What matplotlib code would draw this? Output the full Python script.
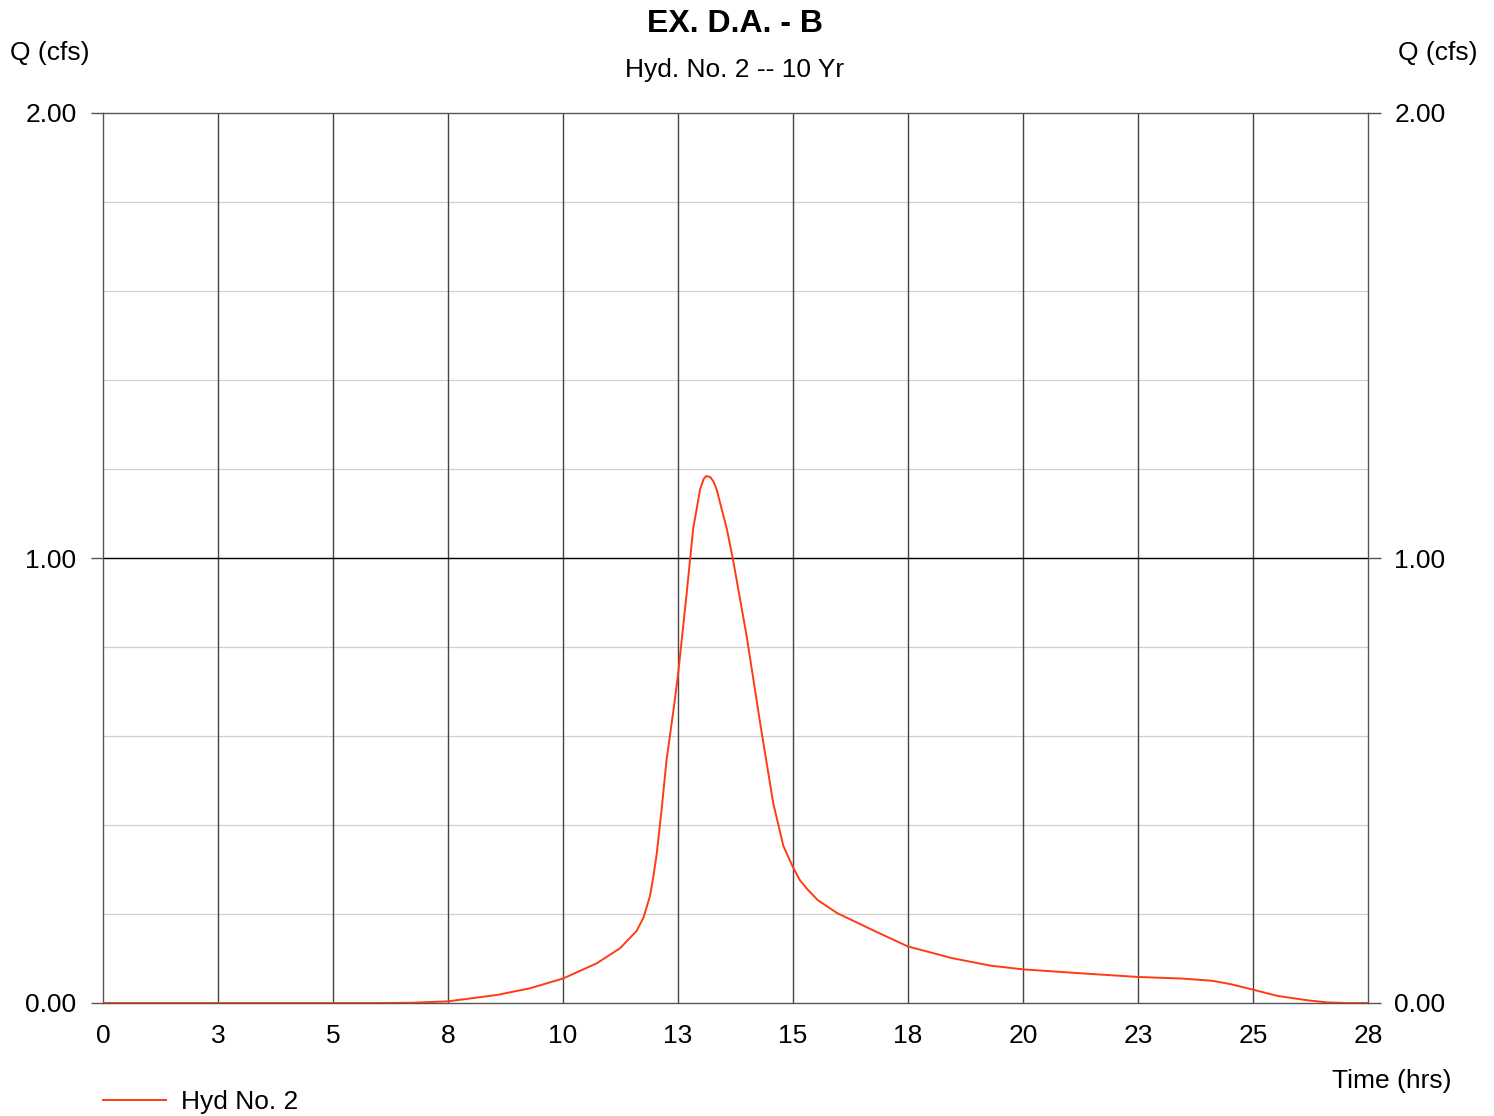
import matplotlib
matplotlib.use("Agg")
import matplotlib.pyplot as plt

plt.rcParams["font.family"] = ["Liberation Sans", "DejaVu Sans"]

# hydrograph (hrs, cfs)
time_hrs = [0.0, 6.0, 6.7, 7.5, 8.56, 9.28, 10.0, 10.73, 11.24, 11.60, 11.75,
            11.89, 11.96, 12.04, 12.15, 12.25, 12.40, 12.5, 12.69, 12.83, 12.98,
            13.06, 13.11, 13.20, 13.27, 13.34, 13.56, 13.70, 13.99, 14.28, 14.57,
            14.79, 15.0, 15.15, 15.30, 15.54, 15.96, 16.79, 17.5, 18.45, 19.29,
            20.0, 21.37, 22.5, 23.45, 24.11, 24.53, 25.0, 25.53, 26.19, 26.6,
            27.0, 27.5]
flow_cfs = [0.0, 0.0, 0.0005, 0.0037, 0.018, 0.033, 0.055, 0.089, 0.123, 0.162, 0.192,
            0.240, 0.281, 0.337, 0.441, 0.545, 0.657, 0.737, 0.922, 1.066, 1.154,
            1.178, 1.184, 1.182, 1.172, 1.154, 1.066, 0.994, 0.826, 0.633, 0.449,
            0.353, 0.305, 0.276, 0.257, 0.231, 0.202, 0.161, 0.127, 0.101, 0.084,
            0.0756, 0.066, 0.0585, 0.055, 0.050, 0.042, 0.030, 0.016, 0.006, 0.0015,
            0.0, 0.0]

x_ticks = [0, 2.5, 5, 7.5, 10, 12.5, 15, 17.5, 20, 22.5, 25, 27.5]
x_labels = ["0", "3", "5", "8", "10", "13", "15", "18", "20", "23", "25", "28"]
y_ticks = [0.0, 1.0, 2.0]
y_labels = ["0.00", "1.00", "2.00"]

line_color = "#ff3b12"
fs = 19

fig = plt.figure(figsize=(14.94, 11.16), dpi=100)
ax = fig.add_axes([103 / 1494, 1 - 1003 / 1116, 1265 / 1494, 890 / 1116])

ax.set_xlim(0, 27.5)
ax.set_ylim(0, 2.0)

# grid: light minor rows, dark columns, black major row
for yv in [i * 0.2 for i in range(1, 10)]:
    ax.axhline(yv, color="#d0d0d0", lw=0.9, zorder=0)
for xv in x_ticks[1:-1]:
    ax.axvline(xv, color="#444444", lw=1.0, zorder=1)
ax.axhline(1.0, color="black", lw=1.0, zorder=1)

ax.plot(time_hrs, flow_cfs, color=line_color, lw=1.4, zorder=3)

for s in ax.spines.values():
    s.set_color("#555555")
    s.set_linewidth(1.0)

ax.set_xticks(x_ticks)
ax.set_xticklabels(x_labels, fontsize=fs)
ax.tick_params(axis="x", length=0, pad=15)
ax.set_yticks(y_ticks)
ax.set_yticklabels(y_labels, fontsize=fs)
ax.tick_params(axis="y", which="both", length=9, width=1.0, color="#555555",
               left=True, right=True, labelleft=True, labelright=True)
ax.tick_params(axis="y", pad=10)

fig.text(735 / 1494, 1 - 24 / 1116, "EX. D.A. - B", ha="center", va="center",
         fontsize=23, fontweight="bold")
fig.text(735 / 1494, 1 - 70 / 1116, "Hyd. No. 2 -- 10 Yr", ha="center", va="center",
         fontsize=fs)
fig.text(10 / 1494, 1 - 53 / 1116, "Q (cfs)", ha="left", va="center", fontsize=fs)
fig.text(1477 / 1494, 1 - 53 / 1116, "Q (cfs)", ha="right", va="center", fontsize=fs)
fig.text(1452 / 1494, 1 - 1081 / 1116, "Time (hrs)", ha="right", va="center", fontsize=fs)

fig.lines.append(plt.Line2D([103 / 1494, 166 / 1494], [1 - 1100 / 1116] * 2,
                            color=line_color, lw=1.4, transform=fig.transFigure))
fig.text(181 / 1494, 1 - 1102 / 1116, "Hyd No. 2", ha="left", va="center", fontsize=fs)

fig.savefig("out.png", dpi=100)
